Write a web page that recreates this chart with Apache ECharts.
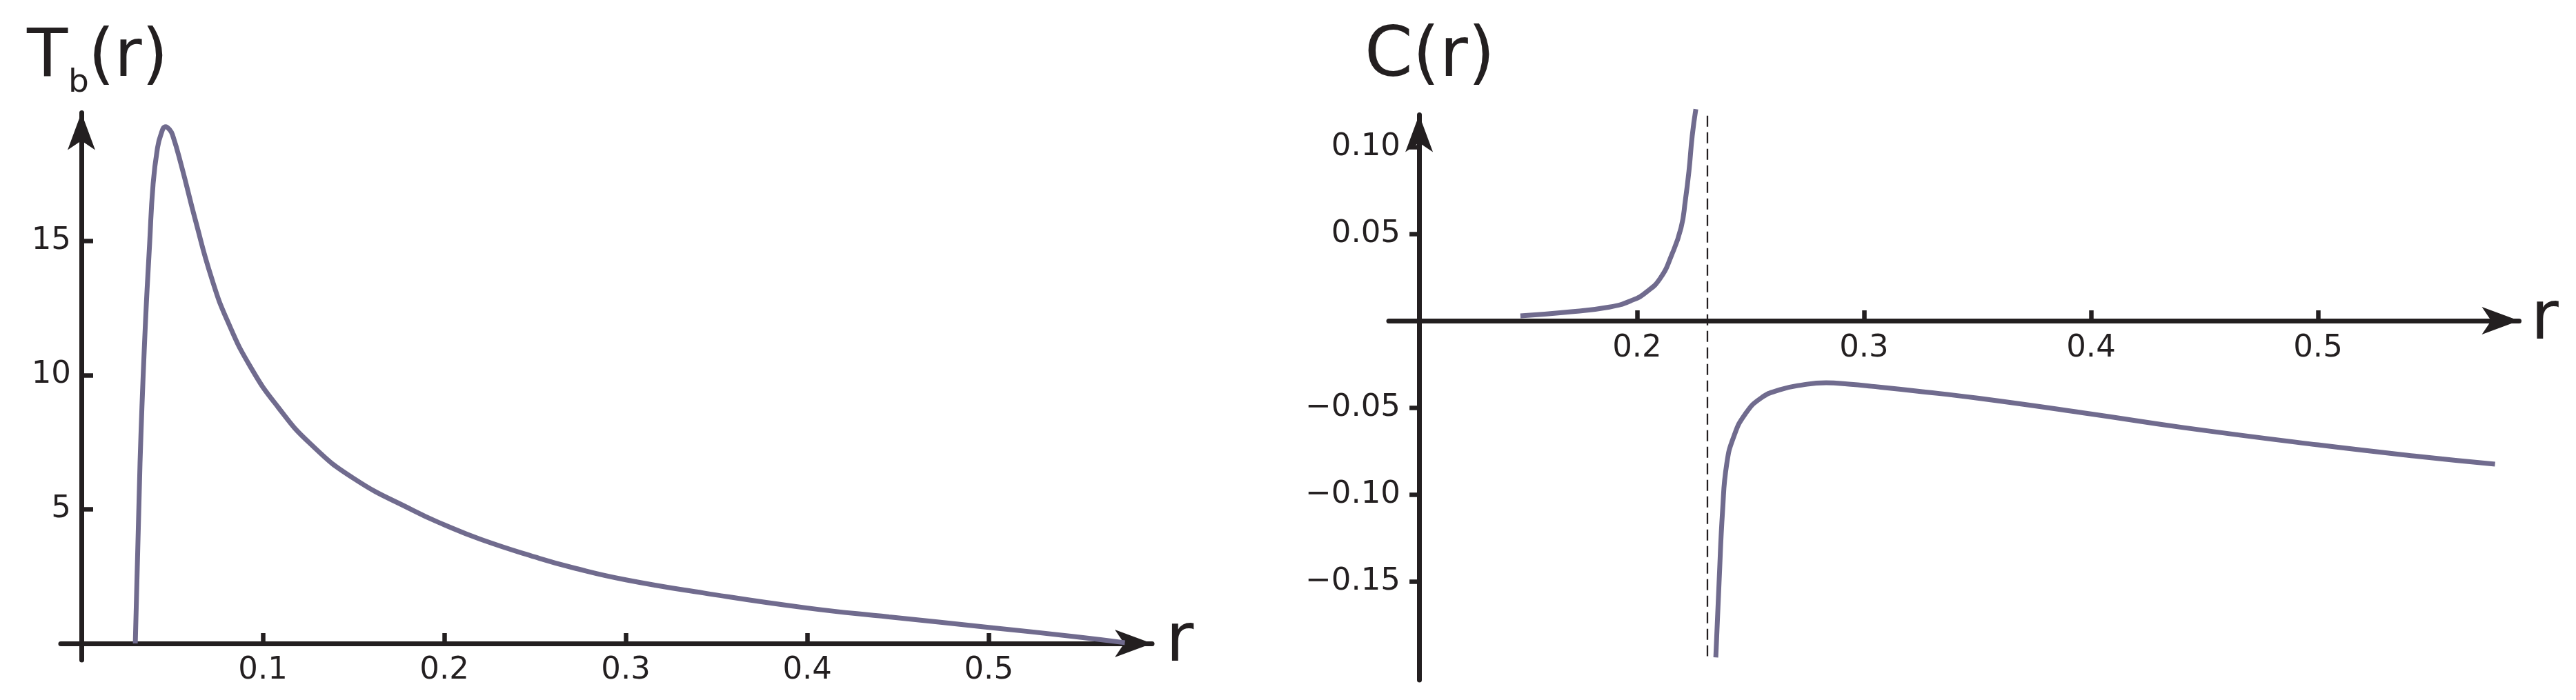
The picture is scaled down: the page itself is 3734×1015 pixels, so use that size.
<!DOCTYPE html>
<html>
<head>
<meta charset="utf-8">
<script src="https://cdn.jsdelivr.net/npm/echarts@6/dist/echarts.min.js"></script>
<style>
html, body { margin: 0; padding: 0; background: #fff; }
#chart { width: 3734px; height: 1015px; }
</style>
</head>
<body>
<div id="chart"></div>
<script>
// left panel: T_b(r)
var tbR = [0.0297, 0.0323, 0.035, 0.0376, 0.0395, 0.0418, 0.044, 0.0464, 0.0485, 0.0502, 0.0551, 0.0627,
    0.0718, 0.0806, 0.0932, 0.1084, 0.126, 0.15, 0.183, 0.20, 0.22, 0.25, 0.271, 0.30, 0.343, 0.40,
    0.445, 0.50, 0.547, 0.575]
var tbVal = [0, 6.7, 11.5, 14.9, 17.1, 18.4, 19.0, 19.25, 19.15, 18.95, 17.8, 15.8,
    13.6, 12.0, 10.3, 8.8, 7.45, 6.15, 4.95, 4.42, 3.88, 3.22, 2.82, 2.37, 1.88, 1.32,
    0.99, 0.6, 0.26, 0.03]

// right panel: C(r), one branch each side of the pole
var cUpperR = [0.1486, 0.1678, 0.1878, 0.198, 0.2043, 0.2103, 0.2152, 0.2194, 0.2213, 0.2229, 0.2243, 0.2259]
var cUpperVal = [0.0028, 0.0048, 0.0079, 0.0119, 0.0167, 0.0246, 0.0377, 0.0536, 0.0694, 0.0865, 0.1063, 0.1218]
var cLowerR = [0.2347, 0.2362, 0.2377, 0.2395, 0.2426, 0.2477, 0.2547, 0.2629, 0.2729, 0.2833, 0.2933,
    0.3033, 0.3237, 0.35, 0.40, 0.441, 0.50, 0.544, 0.578]
var cLowerVal = [-0.1937, -0.1488, -0.1091, -0.0825, -0.0667, -0.0536, -0.0444, -0.0397, -0.0369, -0.0357, -0.0365,
    -0.0377, -0.0405, -0.0445, -0.0536, -0.0615, -0.0714, -0.078, -0.0825]
// dashed asymptote
var cPoleR = 0.231
var cPoleSpan = [0.118, -0.193]

// ticks
var tbTicksX = [0.1, 0.2, 0.3, 0.4, 0.5]
var tbTicksY = [5, 10, 15]
var cTicksX = [0.2, 0.3, 0.4, 0.5]
var cTicksY = [-0.15, -0.10, -0.05, 0.05, 0.10]
// where the vertical axis of the right panel crosses r
var cAxisCross = 0.104

var ink = '#231f20'
var curveColor = '#706b8e'
var font = 'DejaVu Sans'

function zip (xs, ys) {
    return xs.map(function (x, i) { return [x, ys[i]] })
}

function axisLine (extra) {
    return Object.assign({
        onZero: true,
        symbol: ['none', 'arrow'],
        symbolSize: [30, 54],
        lineStyle: { color: ink, width: 7 }
    }, extra || {})
}

function tick (values, inside, len) {
    return { customValues: values, inside: inside, length: len, lineStyle: { color: ink, width: 6.5 } }
}

// labels stay on the grid edge, so margins are counted from there
function label (values, margin, formatter) {
    var l = { customValues: values, margin: margin, fontSize: 45, color: ink, fontFamily: font, hideOverlap: false }
    if (formatter) l.formatter = formatter
    return l
}

function rName (gap) {
    return {
        name: 'r',
        nameLocation: 'end',
        nameGap: gap,
        nameTextStyle: { fontSize: 98, color: ink, fontFamily: font, verticalAlign: 'middle', padding: [0, 0, 24, 0] }
    }
}

var chart = echarts.init(document.getElementById('chart'))

var option = {
    animation: false,
    backgroundColor: '#fff',
    grid: [
        { left: 88, right: 2064, top: 163.5, bottom: 58, outerBoundsMode: 'none' },
        { left: 2013, right: 82.5, top: 166.5, bottom: 29, outerBoundsMode: 'none' }
    ],
    xAxis: [
        Object.assign({
            gridIndex: 0, type: 'value', min: -0.0114, max: 0.590,
            axisLine: axisLine(),
            axisTick: tick(tbTicksX, true, 15),
            axisLabel: label(tbTicksX, -7),
            splitLine: { show: false }
        }, rName(20)),
        Object.assign({
            gridIndex: 1, type: 'value', min: 0.0906, max: 0.5886,
            axisLine: axisLine(),
            axisTick: tick(cTicksX, true, 15),
            axisLabel: label(cTicksX, -503),
            splitLine: { show: false }
        }, rName(17)),
        // hidden helper axis, only used to put the vertical axis at r = cAxisCross
        {
            gridIndex: 1, type: 'value', show: false,
            min: 0.0906 - cAxisCross, max: 0.5886 - cAxisCross
        }
    ],
    yAxis: [
        {
            gridIndex: 0, type: 'value', min: -0.616, max: 19.77,
            axisLine: axisLine(),
            axisTick: tick(tbTicksY, true, 17),
            axisLabel: label(tbTicksY, -15),
            splitLine: { show: false }
        },
        {
            gridIndex: 1, type: 'value', min: -0.2067, max: 0.1185,
            axisLine: axisLine({ onZeroAxisIndex: 2 }),
            axisTick: tick(cTicksY, false, 14),
            axisLabel: label(cTicksY, -17, function (v) {
                return (v < 0 ? '\u2212' : '') + Math.abs(v).toFixed(2)
            }),
            splitLine: { show: false }
        }
    ],
    graphic: [
        { type: 'text', style: { text: 'T', x: 39, y: 85, fontSize: 97, fontFamily: font, fill: ink, verticalAlign: 'middle' } },
        { type: 'text', style: { text: 'b', x: 99, y: 121, fontSize: 47, fontFamily: font, fill: ink, verticalAlign: 'middle' } },
        { type: 'text', style: { text: '(r)', x: 128, y: 85, fontSize: 97, fontFamily: font, fill: ink, verticalAlign: 'middle' } },
        { type: 'text', style: { text: 'C(r)', x: 1978, y: 84, fontSize: 100, fontFamily: font, fill: ink, verticalAlign: 'middle' } }
    ],
    series: [
        {
            type: 'line', xAxisIndex: 0, yAxisIndex: 0,
            data: zip(tbR, tbVal),
            showSymbol: false, smooth: 0.5, clip: false, z: 3,
            lineStyle: { color: curveColor, width: 7 }
        },
        {
            type: 'line', xAxisIndex: 1, yAxisIndex: 1,
            data: zip(cUpperR, cUpperVal),
            showSymbol: false, smooth: 0.5, clip: false, z: 3,
            lineStyle: { color: curveColor, width: 7 },
            markLine: {
                silent: true,
                symbol: ['none', 'none'],
                label: { show: false },
                lineStyle: { color: ink, width: 2.3, type: [16, 8] },
                data: [[{ coord: [cPoleR, cPoleSpan[0]] }, { coord: [cPoleR, cPoleSpan[1]] }]]
            }
        },
        {
            type: 'line', xAxisIndex: 1, yAxisIndex: 1,
            data: zip(cLowerR, cLowerVal),
            showSymbol: false, smooth: 0.5, clip: false, z: 3,
            lineStyle: { color: curveColor, width: 7 }
        }
    ]
}

chart.setOption(option)
</script>
</body>
</html>
